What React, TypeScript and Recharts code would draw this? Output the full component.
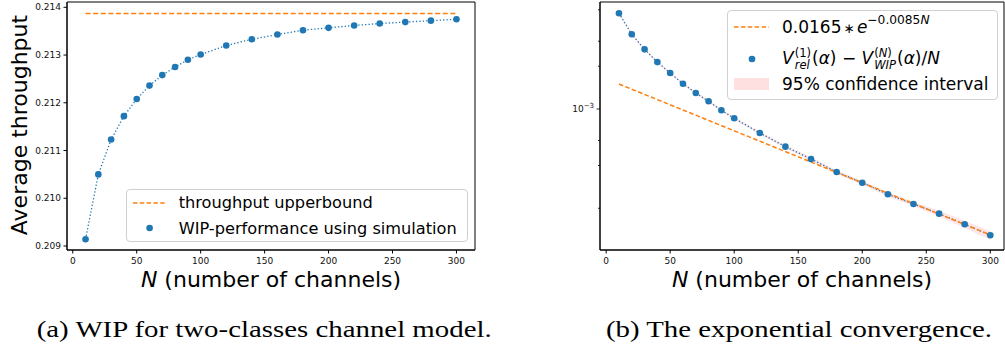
import React from "react";
import {
  Area,
  ComposedChart,
  Legend,
  Line,
  ReferenceArea,
  XAxis,
  YAxis,
} from "recharts";

// N values used by both panels
const channels = [
  10, 20, 30, 40, 50, 60, 70, 80, 90, 100, 120, 140, 160, 180, 200, 220, 240,
  260, 280, 300,
];
// (a) simulated WIP throughput
const wipThroughput = [
  0.20914, 0.2105, 0.21123, 0.21172, 0.21208, 0.21236, 0.21258, 0.21275,
  0.2129, 0.21301, 0.2132, 0.21333, 0.21343, 0.21352, 0.21357, 0.21362,
  0.21366, 0.21369, 0.21372, 0.21375,
];
const upperBoundN = [10, 300];
const upperBound = [0.21387, 0.21387];
// (b) gap V_rel - V_WIP/N and half width of its confidence interval
const gap = [
  4.72e-3, 3.36e-3, 2.63e-3, 2.14e-3, 1.793e-3, 1.507e-3, 1.296e-3, 1.133e-3,
  0.979e-3, 0.86e-3, 0.678e-3, 0.543e-3, 0.4446e-3, 0.36e-3, 0.3027e-3,
  0.2507e-3, 0.2143e-3, 0.1832e-3, 0.1542e-3, 0.129e-3,
];
const ciHalf = [
  0.7e-4, 0.5e-4, 0.4e-4, 0.35e-4, 0.3e-4, 0.26e-4, 0.24e-4, 0.22e-4, 0.2e-4,
  0.18e-4, 0.16e-4, 0.14e-4, 0.12e-4, 0.11e-4, 0.1e-4, 0.085e-4, 0.078e-4,
  0.085e-4, 0.088e-4, 0.094e-4,
];
const fitN = [10, 300];
const fitGap = [1.5e-3, 1.3e-4];

const xTicks = [0, 50, 100, 150, 200, 250, 300];
const throughputTicks = [0.209, 0.21, 0.211, 0.212, 0.213, 0.214];
const logTicks = [
  2e-4, 3e-4, 4e-4, 5e-4, 6e-4, 7e-4, 8e-4, 9e-4, 1e-3, 2e-3, 3e-3, 4e-3, 5e-3,
];

const BLUE = "#1f77b4";
const ORANGE = "#ff7f0e";
const SANS = "'DejaVu Sans', sans-serif";

const leftData = channels.map((n, i) => ({ n, wip: wipThroughput[i] }));
const boundData = upperBoundN.map((n, i) => ({ n, ub: upperBound[i] }));
const rightData = channels.map((n, i) => ({
  n,
  gap: gap[i],
  ci: [gap[i] - ciHalf[i], gap[i] + ciHalf[i]],
}));
const fitData = fitN.map((n, i) => ({ n, fit: fitGap[i] }));

const tickStyle = { fontSize: 9, fill: "#111", fontFamily: SANS };

const XTitle = (props: any) => {
  const { x, y, width } = props.viewBox;
  return (
    <text
      x={x + width / 2}
      y={y + 36.5}
      textAnchor="middle"
      fontFamily={SANS}
      fontSize={22}
      fill="#000"
    >
      <tspan fontStyle="italic">N</tspan> (number of channels)
    </text>
  );
};

const YTitle = (props: any) => {
  const { y, height } = props.viewBox;
  const cy = y + height / 2 - 1;
  return (
    <text
      x={27}
      y={cy}
      transform={`rotate(-90, 27, ${cy})`}
      textAnchor="middle"
      fontFamily={SANS}
      fontSize={22}
      fill="#000"
    >
      Average throughput
    </text>
  );
};

const LogTick = (props: any) => {
  const { x, y, payload } = props;
  const major = payload.value === 1e-3;
  const len = major ? 3.5 : 2;
  return (
    <g>
      <line x1={x - len} x2={x} y1={y} y2={y} stroke="#000" strokeWidth={0.8} />
      {major && (
        <text
          x={x - len - 2.5}
          y={y}
          dy="0.355em"
          textAnchor="end"
          fontFamily={SANS}
          fontSize={9}
          fill="#111"
        >
          10
          <tspan dy={-4} fontSize={7}>
            −3
          </tspan>
        </text>
      )}
    </g>
  );
};

const boxStyle: React.CSSProperties = {
  position: "relative",
  width: "100%",
  height: "100%",
  boxSizing: "border-box",
  border: "1px solid #d0d0d0",
  borderRadius: 4,
  background: "rgba(255,255,255,0.8)",
  fontFamily: SANS,
  color: "#000",
};

const Row = ({ top, h, handle, text, textLeft, fontSize }: any) => (
  <div
    style={{
      position: "absolute",
      left: 0,
      top,
      height: h,
      display: "flex",
      alignItems: "center",
      whiteSpace: "nowrap",
      fontSize,
    }}
  >
    <svg width={textLeft} height={h} style={{ display: "block" }}>
      {handle(h / 2)}
    </svg>
    <span>{text}</span>
  </div>
);

const dashHandle = (x0: number, x1: number, dash: string) => (cy: number) =>
  (
    <line
      x1={x0}
      x2={x1}
      y1={cy}
      y2={cy}
      stroke={ORANGE}
      strokeWidth={1.5}
      strokeDasharray={dash}
    />
  );
const dotHandle = (cx: number) => (cy: number) =>
  <circle cx={cx} cy={cy} r={3.3} fill={BLUE} />;

const LeftLegend = () => (
  <div style={boxStyle}>
    <Row
      top={0.7}
      h={24}
      textLeft={52}
      fontSize={16.2}
      handle={dashHandle(6, 39.5, "4.5 2.3")}
      text="throughput upperbound"
    />
    <Row
      top={26.3}
      h={24}
      textLeft={52}
      fontSize={16.2}
      handle={dotHandle(22.6)}
      text="WIP-performance using simulation"
    />
  </div>
);

const Stack = ({ sup, sub }: any) => (
  <span
    style={{
      display: "inline-flex",
      flexDirection: "column",
      fontSize: "0.68em",
      lineHeight: 1.05,
      verticalAlign: "middle",
      margin: "0 1px",
    }}
  >
    <span>{sup}</span>
    <span style={{ fontStyle: "italic" }}>{sub}</span>
  </span>
);

const fitLabel = (
  <span>
    0.0165<span style={{ fontSize: "0.8em", margin: "0 2px" }}>∗</span>
    <i>e</i>
    <span style={{ fontSize: "0.72em", position: "relative", top: "-0.75em" }}>
      −0.0085<i>N</i>
    </span>
  </span>
);

const gapLabel = (
  <span>
    <i>V</i>
    <Stack sup="(1)" sub="rel" />
    (<i>α</i>) − <i>V</i>
    <Stack sup={<span>(<i>N</i>)</span>} sub="WIP" />
    (<i>α</i>)/<i>N</i>
  </span>
);

const RightLegend = () => (
  <div style={boxStyle}>
    <Row
      top={2.7}
      h={26}
      textLeft={54}
      fontSize={17}
      handle={dashHandle(6, 41, "4.5 2.4")}
      text={fitLabel}
    />
    <Row
      top={31.7}
      h={32}
      textLeft={54}
      fontSize={17}
      handle={dotHandle(24)}
      text={gapLabel}
    />
    <Row
      top={60.3}
      h={26}
      textLeft={54}
      fontSize={17}
      handle={(cy: number) => (
        <rect x={6} y={cy - 6} width={35} height={12} fill="#ff0000" fillOpacity={0.12} />
      )}
      text="95% confidence interval"
    />
  </div>
);

const leftYDomain = [0.208916, 0.214111];
const leftXDomain = [-4.5, 314.5];
const rightYDomain = [1.0163e-4, 5.67e-3];
const rightXDomain = [-4.8, 310.7];

export default function App() {
  return (
    <div
      style={{
        position: "absolute",
        left: 0,
        top: 0,
        width: 1005,
        height: 345,
        overflow: "hidden",
        background: "#fff",
      }}
    >
      <div style={{ position: "absolute", left: 0, top: 0 }}>
        <ComposedChart
          width={500}
          height={300}
          data={leftData}
          margin={{ top: 2, right: 25, bottom: 0, left: 0 }}
        >
          <XAxis
            dataKey="n"
            type="number"
            domain={leftXDomain}
            ticks={xTicks}
            allowDataOverflow
            height={50}
            tick={tickStyle}
            tickSize={3.5}
            tickMargin={4}
            stroke="#000"
            label={{ content: XTitle }}
          />
          <YAxis
            type="number"
            domain={leftYDomain}
            ticks={throughputTicks}
            allowDataOverflow
            width={67}
            tick={tickStyle}
            tickSize={3.5}
            tickMargin={2.5}
            tickFormatter={(v: number) => v.toFixed(3)}
            stroke="#000"
            label={{ content: YTitle }}
          />
          <ReferenceArea
            x1={leftXDomain[0]}
            x2={leftXDomain[1]}
            y1={leftYDomain[0]}
            y2={leftYDomain[1]}
            fill="none"
            stroke="#000"
            strokeWidth={1}
          />
          <Line
            data={boundData}
            dataKey="ub"
            stroke={ORANGE}
            strokeWidth={1.5}
            strokeDasharray="5 2.6"
            dot={false}
            isAnimationActive={false}
          />
          <Line
            dataKey="wip"
            stroke={BLUE}
            strokeWidth={1.3}
            strokeDasharray="1.3 2.1"
            dot={{ r: 3.3, fill: BLUE, stroke: "none" }}
            isAnimationActive={false}
          />
          <Legend
            layout="vertical"
            align="center"
            verticalAlign="middle"
            wrapperStyle={{ left: 125.7, top: 189, width: 342, height: 53 }}
            content={() => <LeftLegend />}
          />
        </ComposedChart>
      </div>

      <div style={{ position: "absolute", left: 500, top: 0 }}>
        <ComposedChart
          width={505}
          height={300}
          data={rightData}
          margin={{ top: 2, right: 1, bottom: 0, left: 0 }}
        >
          <XAxis
            dataKey="n"
            type="number"
            domain={rightXDomain}
            ticks={xTicks}
            allowDataOverflow
            height={50}
            tick={tickStyle}
            tickSize={3.5}
            tickMargin={4}
            stroke="#000"
            label={{ content: XTitle }}
          />
          <YAxis
            type="number"
            scale="log"
            domain={rightYDomain}
            ticks={logTicks}
            allowDataOverflow
            width={100}
            tickLine={false}
            tickSize={0}
            tickMargin={0}
            tick={<LogTick />}
            stroke="#000"
          />
          <ReferenceArea
            x1={rightXDomain[0]}
            x2={rightXDomain[1]}
            y1={rightYDomain[0]}
            y2={rightYDomain[1]}
            fill="none"
            stroke="#000"
            strokeWidth={1}
          />
          <Area
            dataKey="ci"
            stroke="none"
            fill="#ff0000"
            fillOpacity={0.1}
            isAnimationActive={false}
          />
          <Line
            dataKey="gap"
            stroke={BLUE}
            strokeWidth={1.3}
            strokeDasharray="1.3 2.1"
            dot={{ r: 3.3, fill: BLUE, stroke: "none" }}
            isAnimationActive={false}
          />
          <Line
            data={fitData}
            dataKey="fit"
            stroke={ORANGE}
            strokeWidth={1.5}
            strokeDasharray="4.5 2.4"
            dot={false}
            isAnimationActive={false}
          />
          <Legend
            layout="vertical"
            align="center"
            verticalAlign="middle"
            wrapperStyle={{ left: 227, top: 10, width: 271, height: 90 }}
            content={() => <RightLegend />}
          />
        </ComposedChart>
      </div>

      <svg
        width={1005}
        height={345}
        style={{ position: "absolute", left: 0, top: 0, pointerEvents: "none" }}
      >
        <text
          x={36.7}
          y={337}
          fontFamily="'Liberation Serif', serif"
          fontSize={23}
          textLength={455}
          lengthAdjust="spacingAndGlyphs"
          fill="#000"
        >
          (a) WIP for two-classes channel model.
        </text>
        <text
          x={606}
          y={337}
          fontFamily="'Liberation Serif', serif"
          fontSize={23}
          textLength={386}
          lengthAdjust="spacingAndGlyphs"
          fill="#000"
        >
          (b) The exponential convergence.
        </text>
      </svg>
    </div>
  );
}
